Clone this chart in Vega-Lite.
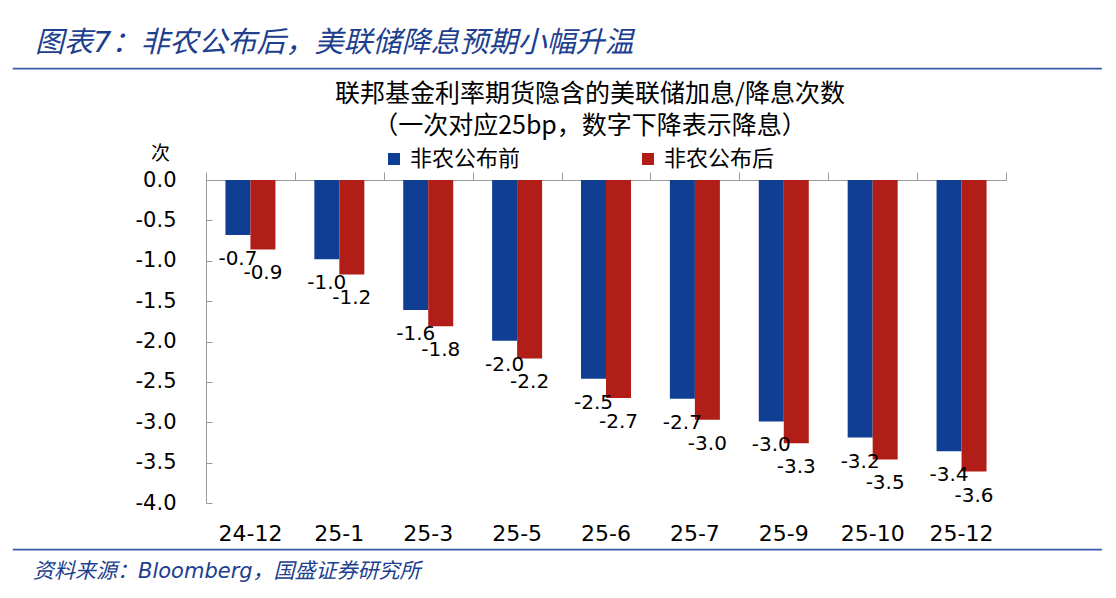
{
  "$schema": "https://vega.github.io/schema/vega-lite/v6.json",
  "background": "white",
  "padding": {"left": 12, "top": 28, "right": 0, "bottom": 0},
  "bounds": "full",
  "align": "none",
  "spacing": 4,
  "resolve": {"legend": {"color": "independent"}, "scale": {"color": "independent"}},
  "config": {
    "font": "DejaVu Sans, Noto Sans CJK SC",
    "view": {"stroke": null},
    "locale": {"number": {"decimal": ".", "thousands": ",", "grouping": [3], "currency": ["", ""], "minus": "-"}}
  },
  "datasets": {
    "fed": [
      {"month": "24-12", "series": "非农公布前", "value": -0.68},
      {"month": "24-12", "series": "非农公布后", "value": -0.86},
      {"month": "25-1", "series": "非农公布前", "value": -0.98},
      {"month": "25-1", "series": "非农公布后", "value": -1.17},
      {"month": "25-3", "series": "非农公布前", "value": -1.61},
      {"month": "25-3", "series": "非农公布后", "value": -1.81},
      {"month": "25-5", "series": "非农公布前", "value": -1.99},
      {"month": "25-5", "series": "非农公布后", "value": -2.21},
      {"month": "25-6", "series": "非农公布前", "value": -2.46},
      {"month": "25-6", "series": "非农公布后", "value": -2.7},
      {"month": "25-7", "series": "非农公布前", "value": -2.71},
      {"month": "25-7", "series": "非农公布后", "value": -2.97},
      {"month": "25-9", "series": "非农公布前", "value": -2.99},
      {"month": "25-9", "series": "非农公布后", "value": -3.26},
      {"month": "25-10", "series": "非农公布前", "value": -3.19},
      {"month": "25-10", "series": "非农公布后", "value": -3.46},
      {"month": "25-12", "series": "非农公布前", "value": -3.36},
      {"month": "25-12", "series": "非农公布后", "value": -3.61}
    ],
    "empty": []
  },
  "vconcat": [
    {
      "title": {
        "text": "图表7：非农公布后，美联储降息预期小幅升温",
        "orient": "top",
        "anchor": "start",
        "frame": "group",
        "dx": 22,
        "offset": 10,
        "fontSize": 29,
        "fontStyle": "italic",
        "fontWeight": "normal",
        "color": "#203E8E",
        "font": "DejaVu Sans, Noto Sans CJK SC"
      },
      "width": 1088,
      "height": 0.5,
      "data": {"name": "empty"},
      "mark": "point",
      "encoding": {},
      "view": {"stroke": "#3A5BA9", "strokeWidth": 1.2}
    },
    {
      "width": 10,
      "height": 4,
      "data": {"name": "empty"},
      "mark": "point",
      "encoding": {},
      "view": {"fill": "white", "stroke": null}
    },
    {
      "hconcat": [
        {
          "width": 193,
          "height": 323,
          "data": {"name": "empty"},
          "mark": "point",
          "encoding": {}
        },
        {
          "width": 800,
          "height": 323,
          "data": {"name": "fed"},
          "title": {
            "text": ["联邦基金利率期货隐含的美联储加息/降息次数", "（一次对应25bp，数字下降表示降息）"],
            "anchor": "middle",
            "frame": "group",
            "dx": -16,
            "offset": 5,
            "fontSize": 25,
            "lineHeight": 32,
            "fontWeight": "normal",
            "color": "black",
            "font": "Noto Sans CJK SC"
          },
          "encoding": {
            "y": {
              "field": "value",
              "type": "quantitative",
              "scale": {"domain": [-4, 0], "nice": false},
              "axis": {
                "values": [-4, -3.5, -3, -2.5, -2, -1.5, -1, -0.5, 0],
                "format": ".1f",
                "grid": false,
                "domainColor": "#9a9a9a",
                "tickColor": "#9a9a9a",
                "tickSize": -6,
                "labelPadding": 36,
                "labelFontSize": 21,
                "labelColor": "black",
                "labelFont": "DejaVu Sans",
                "title": "次",
                "titleAngle": 0,
                "titleX": -46,
                "titleY": -27,
                "titleAlign": "center",
                "titleBaseline": "middle",
                "titleFontSize": 19,
                "titleFontWeight": "normal",
                "titleColor": "black",
                "titleFont": "Noto Sans CJK SC"
              }
            },
            "xOffset": {
              "field": "series",
              "type": "nominal",
              "sort": ["非农公布前", "非农公布后"],
              "scale": {"paddingInner": 0, "paddingOuter": 0.778}
            }
          },
          "layer": [
            {
              "mark": {"type": "bar"},
              "encoding": {
                "x": {
                  "field": "month",
                  "type": "nominal",
                  "sort": ["24-12", "25-1", "25-3", "25-5", "25-6", "25-7", "25-9", "25-10", "25-12"],
                  "scale": {"paddingInner": 0, "paddingOuter": 0},
                  "axis": {
                    "orient": "top",
                    "labels": false,
                    "ticks": true,
                    "tickBand": "extent",
                    "tickSize": 8,
                    "domain": true,
                    "domainColor": "#9a9a9a",
                    "tickColor": "#9a9a9a",
                    "title": null,
                    "grid": false
                  }
                },
                "color": {
                  "field": "series",
                  "type": "nominal",
                  "scale": {"domain": ["非农公布前", "非农公布后"], "range": ["#0F3E93", "#B11E17"]},
                  "legend": {
                    "orient": "none",
                    "direction": "horizontal",
                    "legendX": 177,
                    "legendY": -32,
                    "title": null,
                    "padding": 0,
                    "symbolType": "square",
                    "symbolSize": 144,
                    "symbolStrokeWidth": 0,
                    "symbolOpacity": 1,
                    "labelOffset": 5,
                    "labelFontSize": 22,
                    "labelFont": "Noto Sans CJK SC",
                    "labelColor": "black",
                    "columnPadding": 116
                  }
                }
              }
            },
            {
              "mark": {"type": "text", "baseline": "top", "align": "center", "dy": 14, "fontSize": 20, "font": "DejaVu Sans", "color": "black"},
              "encoding": {
                "x": {
                  "field": "month",
                  "type": "nominal",
                  "sort": ["24-12", "25-1", "25-3", "25-5", "25-6", "25-7", "25-9", "25-10", "25-12"],
                  "scale": {"paddingInner": 0, "paddingOuter": 0},
                  "axis": {
                    "orient": "bottom",
                    "domain": false,
                    "ticks": false,
                    "labelPadding": 20,
                    "labelFontSize": 22,
                    "labelFont": "DejaVu Sans",
                    "labelColor": "black",
                    "labelAngle": 0,
                    "title": null,
                    "grid": false
                  }
                },
                "text": {"field": "value", "type": "quantitative", "format": ".1f"}
              }
            }
          ],
          "resolve": {"axis": {"x": "independent"}}
        }
      ],
      "spacing": 0,
      "bounds": "flush",
      "resolve": {"legend": {"color": "independent"}, "scale": {"color": "independent"}}
    },
    {
      "title": {
        "text": "资料来源：Bloomberg，国盛证券研究所",
        "orient": "bottom",
        "anchor": "start",
        "frame": "group",
        "dx": 20,
        "offset": 11,
        "fontSize": 21,
        "fontStyle": "italic",
        "fontWeight": "normal",
        "color": "#203E8E",
        "font": "DejaVu Sans, Noto Sans CJK SC"
      },
      "width": 1088,
      "height": 0.5,
      "data": {"name": "empty"},
      "mark": "point",
      "encoding": {},
      "view": {"stroke": "#3A5BA9", "strokeWidth": 1.2}
    }
  ]
}
